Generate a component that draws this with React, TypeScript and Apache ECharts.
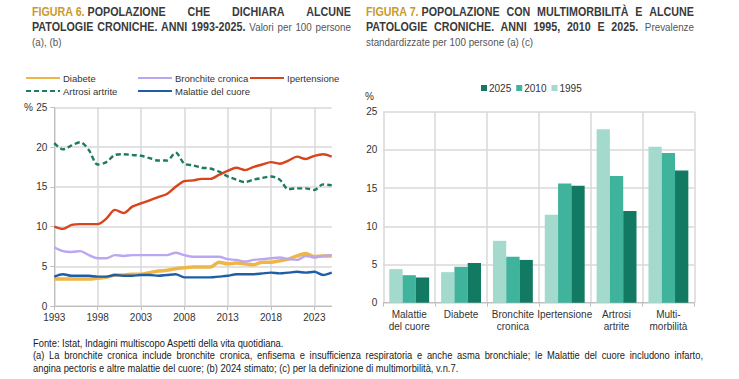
import React, { useEffect, useRef } from "react";
import * as echarts from "echarts";

const SANS = '"Liberation Sans", Arial, sans-serif';

const years = [
  "1993", "1994", "1995", "1996", "1997", "1998", "1999", "2000", "2001", "2002", "2003",
  "2004", "2005", "2006", "2007", "2008", "2009", "2010", "2011", "2012", "2013", "2014",
  "2015", "2016", "2017", "2018", "2019", "2020", "2021", "2022", "2023", "2024", "2025",
];
const diabete = [3.4, 3.4, 3.4, 3.4, 3.4, 3.5, 3.6, 3.9, 3.9, 4.0, 4.0, 4.2, 4.4, 4.5, 4.7, 4.8, 4.9, 4.9, 4.9, 5.5, 5.3, 5.4, 5.3, 5.2, 5.5, 5.5, 5.7, 5.9, 6.3, 6.6, 6.2, 6.3, 6.3];
const bronchite = [7.4, 6.9, 6.8, 6.9, 6.4, 6.0, 6.0, 6.4, 6.3, 6.4, 6.4, 6.4, 6.4, 6.4, 6.7, 6.4, 6.2, 6.2, 6.2, 6.2, 5.9, 5.8, 5.6, 5.8, 5.9, 6.0, 6.1, 5.9, 5.8, 6.3, 6.1, 6.3, 6.4];
const ipertensione = [10.0, 9.7, 10.2, 10.3, 10.3, 10.3, 11.0, 12.1, 11.7, 12.5, 12.9, 13.3, 13.7, 14.1, 15.0, 15.7, 15.8, 16.0, 16.0, 16.5, 17.0, 17.4, 17.1, 17.5, 17.8, 18.1, 17.9, 18.3, 18.8, 18.5, 18.9, 19.1, 18.8];
const artrosi = [20.5, 19.7, 20.2, 20.6, 19.6, 17.8, 18.1, 19.0, 19.1, 19.0, 18.9, 18.6, 18.3, 18.3, 19.3, 17.9, 17.7, 17.4, 17.3, 16.9, 16.3, 15.9, 15.6, 15.9, 16.1, 16.3, 15.9, 14.7, 14.8, 14.8, 14.6, 15.3, 15.2];
const malattie = [3.7, 4.0, 3.8, 3.8, 3.8, 3.7, 3.7, 3.9, 3.8, 3.8, 3.9, 3.9, 3.8, 3.9, 4.0, 3.6, 3.6, 3.6, 3.6, 3.7, 3.8, 4.0, 4.0, 4.0, 4.1, 4.2, 4.1, 4.2, 4.3, 4.2, 4.3, 3.9, 4.2];

const barCategories = ["Malattie\ndel cuore", "Diabete", "Bronchite\ncronica", "Ipertensione", "Artrosi\nartrite", "Multi-\nmorbilità"];
const bar1995 = [4.4, 4.0, 8.1, 11.5, 22.7, 20.4];
const bar2010 = [3.6, 4.7, 6.0, 15.6, 16.6, 19.6];
const bar2025 = [3.3, 5.2, 5.6, 15.3, 12.0, 17.3];

const lineSeriesDefs = [
  { name: "Diabete", data: diabete, color: "#EEB547", width: 3.5, type: "solid" },
  { name: "Bronchite cronica", data: bronchite, color: "#BBA6F2", width: 2.4, type: "solid" },
  { name: "Ipertensione", data: ipertensione, color: "#D8441C", width: 2.4, type: "solid" },
  { name: "Artrosi artrite", data: artrosi, color: "#1E7B63", width: 2.4, type: [5, 3] },
  { name: "Malattie del cuore", data: malattie, color: "#1F5DA6", width: 2.4, type: "solid" },
];

const legendPos: Record<string, [number, number]> = {
  "Diabete": [25, 73],
  "Bronchite cronica": [137, 73],
  "Ipertensione": [249, 73],
  "Artrosi artrite": [25, 86],
  "Malattie del cuore": [137, 86],
};

const grid = "#D9D9D9";
const axisCol = "#BFBFBF";
const labelCol = "#333333";

function buildOption(): any {
  const lineSeries = lineSeriesDefs.map((d) => ({
    name: d.name,
    type: "line",
    xAxisIndex: 0,
    yAxisIndex: 0,
    data: d.data,
    symbol: "none",
    smooth: 0.3,
    lineStyle: { color: d.color, width: d.width, type: d.type },
    itemStyle: { color: d.color },
  }));
  const barDefs = [
    { name: "1995", data: bar1995, color: "#A3DACD" },
    { name: "2010", data: bar2010, color: "#3FB39B" },
    { name: "2025", data: bar2025, color: "#127A62" },
  ];
  const barSeries = barDefs.map((d) => ({
    name: d.name,
    type: "bar",
    xAxisIndex: 1,
    yAxisIndex: 1,
    data: d.data,
    barGap: "0%",
    barCategoryGap: "23%",
    itemStyle: { color: d.color },
  }));
  const lineLegends = lineSeriesDefs.map((d) => ({
    data: [d.name],
    left: legendPos[d.name][0],
    top: legendPos[d.name][1],
    orient: "horizontal",
    itemWidth: 34,
    itemHeight: 10,
    padding: 0,
    itemStyle: { opacity: 0 },
    textStyle: { fontFamily: SANS, fontSize: 9.5, color: labelCol, padding: [0, 0, 0, -2] },
  }));
  return {
    animation: false,
    backgroundColor: "#fff",
    textStyle: { fontFamily: SANS },
    grid: [
      { left: 54.3, top: 107.3, width: 277.4, height: 198.7 },
      { left: 383.3, top: 111.7, width: 311, height: 191 },
    ],
    legend: [
      ...lineLegends,
      {
        data: ["2025", "2010", "1995"],
        left: 481,
        top: 83,
        padding: 0,
        itemWidth: 6,
        itemHeight: 6,
        itemGap: 5,
        icon: "rect",
        textStyle: { fontFamily: SANS, fontSize: 10, color: labelCol, padding: [0, 0, 0, -3] },
      },
    ],
    graphic: [
      { type: "text", left: 24, top: 102, style: { text: "%", fontFamily: SANS, fontSize: 10, fill: labelCol } },
      { type: "text", left: 365, top: 91, style: { text: "%", fontFamily: SANS, fontSize: 10, fill: labelCol } },
    ],
    xAxis: [
      {
        type: "category",
        gridIndex: 0,
        data: years,
        boundaryGap: false,
        axisLine: { lineStyle: { color: axisCol, width: 1 } },
        axisTick: { show: true, interval: 4, length: 4, lineStyle: { color: axisCol } },
        axisLabel: { interval: 4, fontSize: 10, color: labelCol, margin: 6, fontFamily: SANS },
        splitLine: { show: true, interval: 4, lineStyle: { color: grid, width: 1.5 } },
      },
      {
        type: "category",
        gridIndex: 1,
        data: barCategories,
        axisLine: { lineStyle: { color: axisCol, width: 1 } },
        axisTick: { show: true, length: 4, lineStyle: { color: axisCol } },
        axisLabel: { interval: 0, fontSize: 10, lineHeight: 12, color: labelCol, margin: 6, fontFamily: SANS },
        splitLine: { show: true, lineStyle: { color: grid, width: 1.5 } },
      },
    ],
    yAxis: [
      {
        type: "value",
        gridIndex: 0,
        min: 0,
        max: 25,
        interval: 5,
        axisLine: { show: true, lineStyle: { color: axisCol, width: 1 } },
        axisTick: { show: true, length: 4, lineStyle: { color: axisCol } },
        axisLabel: { fontSize: 10, color: labelCol, margin: 7, fontFamily: SANS },
        splitLine: { show: true, lineStyle: { color: grid, width: 1.5 } },
      },
      {
        type: "value",
        gridIndex: 1,
        min: 0,
        max: 25,
        interval: 5,
        axisLine: { show: false },
        axisTick: { show: false },
        axisLabel: { fontSize: 10, color: labelCol, margin: 6, fontFamily: SANS },
        splitLine: { show: true, lineStyle: { color: grid, width: 1.5 } },
      },
    ],
    series: [...lineSeries, ...barSeries],
  };
}

const TS = 0.893; // horizontal condensing of the title text (narrow face)
const FS = 0.89; // horizontal condensing of the footer text

const titleBase: React.CSSProperties = {
  position: "absolute",
  fontFamily: SANS,
  fontSize: 12,
  lineHeight: "15px",
  color: "#3A3A3A",
  transform: `scaleX(${TS})`,
  transformOrigin: "0 0",
};
const justLine: React.CSSProperties = { textAlign: "justify", textAlignLast: "justify" as any, whiteSpace: "nowrap" };
const unit: React.CSSProperties = { display: "inline-block", fontWeight: "bold" };
const gold: React.CSSProperties = { color: "#C99A2E", fontWeight: "bold" };
const bold: React.CSSProperties = { fontWeight: "bold" };
const sub: React.CSSProperties = { fontWeight: "normal", color: "#555555", fontSize: 11 };

export default function App() {
  const ref = useRef<HTMLDivElement>(null);
  useEffect(() => {
    const chart = echarts.init(ref.current!, null, { renderer: "svg" });
    chart.setOption(buildOption());
    return () => chart.dispose();
  }, []);
  return (
    <div style={{ position: "absolute", left: 0, top: 0, width: 739, height: 379, background: "#fff", overflow: "hidden" }}>
      <div ref={ref} style={{ position: "absolute", left: 0, top: 0, width: 739, height: 379 }} />
      <div style={{ ...titleBase, left: 32, top: 5, width: 319 / TS }}>
        <div style={justLine}>
          <span style={unit}>
            <span style={gold}>FIGURA 6.</span> POPOLAZIONE
          </span>{" "}
          <span style={bold}>CHE</span> <span style={bold}>DICHIARA</span> <span style={bold}>ALCUNE</span>
        </div>
        <div style={justLine}>
          <span style={bold}>PATOLOGIE CRONICHE. ANNI 1993-2025.</span> <span style={sub}>Valori per 100 persone</span>
        </div>
        <div>
          <span style={sub}>(a), (b)</span>
        </div>
      </div>
      <div style={{ ...titleBase, left: 366, top: 5, width: 328 / TS }}>
        <div style={justLine}>
          <span style={unit}>
            <span style={gold}>FIGURA 7.</span> POPOLAZIONE
          </span>{" "}
          <span style={bold}>CON</span> <span style={bold}>MULTIMORBILITÀ</span> <span style={bold}>E</span>{" "}
          <span style={bold}>ALCUNE</span>
        </div>
        <div style={justLine}>
          <span style={bold}>PATOLOGIE CRONICHE. ANNI 1995, 2010 E 2025.</span> <span style={sub}>Prevalenze</span>
        </div>
        <div>
          <span style={sub}>standardizzate per 100 persone (a) (c)</span>
        </div>
      </div>
      <div
        style={{
          position: "absolute",
          left: 33,
          top: 337,
          width: 670 / FS,
          fontFamily: SANS,
          fontSize: 10.5,
          lineHeight: "12.3px",
          color: "#1A1A1A",
          transform: `scaleX(${FS})`,
          transformOrigin: "0 0",
        }}
      >
        <div>Fonte: Istat, Indagini multiscopo Aspetti della vita quotidiana.</div>
        <div style={justLine}>
          (a) La bronchite cronica include bronchite cronica, enfisema e insufficienza respiratoria e anche asma bronchiale; le Malattie del cuore includono infarto,
        </div>
        <div>angina pectoris e altre malattie del cuore; (b) 2024 stimato; (c) per la definizione di multimorbilità, v.n.7.</div>
      </div>
    </div>
  );
}
